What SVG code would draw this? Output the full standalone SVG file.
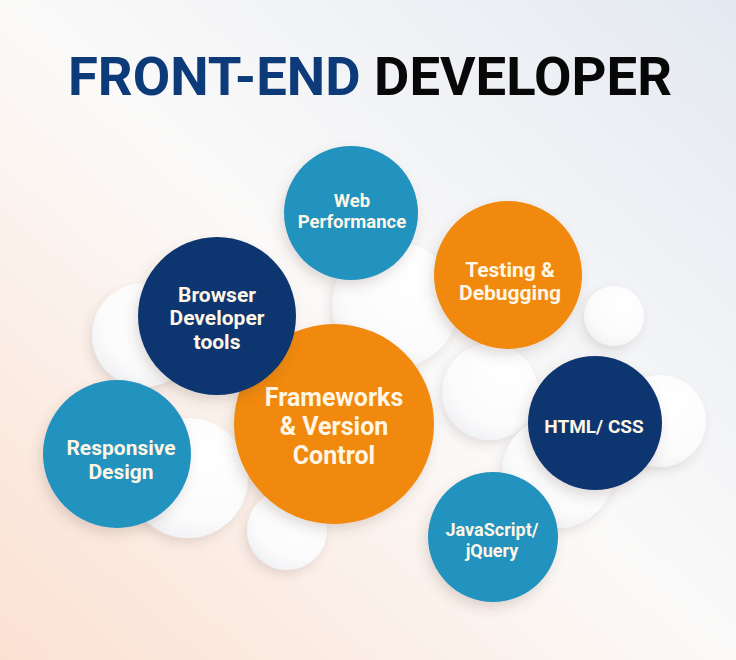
<svg xmlns="http://www.w3.org/2000/svg" width="736" height="660" viewBox="0 0 736 660">
<defs>
<linearGradient id="bg" x1="0" y1="1" x2="1" y2="0">
<stop offset="0" stop-color="#fbe1d2"/>
<stop offset="0.5" stop-color="#fbfaf9"/>
<stop offset="1" stop-color="#e4e9f1"/>
</linearGradient>
<radialGradient id="wh" cx="0.65" cy="0.3" r="0.8">
<stop offset="0" stop-color="#ffffff"/>
<stop offset="0.7" stop-color="#fbfbfc"/>
<stop offset="1" stop-color="#eeeff2"/>
</radialGradient>
<filter id="sh" x="-30%" y="-30%" width="160%" height="160%">
<feDropShadow dx="-3" dy="6" stdDeviation="6" flood-color="#5a4a40" flood-opacity="0.18"/>
</filter>
<filter id="shw" x="-30%" y="-30%" width="160%" height="160%">
<feDropShadow dx="-3" dy="5" stdDeviation="5" flood-color="#5a4a40" flood-opacity="0.14"/>
</filter>
</defs>
<style>
.teal{fill:#2492be;filter:url(#sh)}
.navy{fill:#0b3570;filter:url(#sh)}
.orng{fill:#f0890e;filter:url(#sh)}
.wht{fill:url(#wh);filter:url(#shw)}
.lbl{font-family:Roboto,"Liberation Sans",sans-serif;font-weight:700;fill:#fff6e6;text-anchor:middle}
.ttl{font-family:Roboto,"Liberation Sans",sans-serif;font-weight:700;font-size:53px}
</style>
<rect width="736" height="660" fill="url(#bg)"/>
<text class="ttl" x="68" y="95" textLength="604" lengthAdjust="spacingAndGlyphs"><tspan fill="#0d3a78">FRONT-END </tspan><tspan fill="#080808">DEVELOPER</tspan></text>
<g id="white-circles">
<circle class="wht" cx="395" cy="305" r="63"/>
<circle class="wht" cx="144" cy="335" r="52"/>
<circle class="wht" cx="188" cy="478" r="60"/>
<circle class="wht" cx="287" cy="530" r="40"/>
<circle class="wht" cx="490" cy="392" r="48"/>
<circle class="wht" cx="614" cy="316" r="30"/>
<circle class="wht" cx="660" cy="421" r="46"/>
<circle class="wht" cx="558" cy="472" r="56"/>
</g>
<g id="frameworks">
<circle class="orng" cx="334" cy="424" r="100"/>
<text class="lbl" font-size="25"><tspan x="334" y="406">Frameworks</tspan><tspan x="334" y="435">&amp; Version</tspan><tspan x="334" y="464">Control</tspan></text>
</g>
<g id="web-performance">
<circle class="teal" cx="351" cy="213" r="67"/>
<text class="lbl" font-size="18.5"><tspan x="352" y="207">Web</tspan><tspan x="352" y="228">Performance</tspan></text>
</g>
<g id="browser-tools">
<circle class="navy" cx="217" cy="316" r="79"/>
<text class="lbl" font-size="21"><tspan x="217" y="302">Browser</tspan><tspan x="217" y="325">Developer</tspan><tspan x="217" y="349">tools</tspan></text>
</g>
<g id="testing">
<circle class="orng" cx="508" cy="275" r="74"/>
<text class="lbl" font-size="21"><tspan x="510" y="277">Testing &amp;</tspan><tspan x="510" y="300">Debugging</tspan></text>
</g>
<g id="responsive">
<circle class="teal" cx="117" cy="454" r="74"/>
<text class="lbl" font-size="21"><tspan x="121" y="455">Responsive</tspan><tspan x="121" y="479">Design</tspan></text>
</g>
<g id="html-css">
<circle class="navy" cx="595" cy="423" r="67"/>
<text class="lbl" font-size="19" x="594" y="433">HTML/ CSS</text>
</g>
<g id="javascript">
<circle class="teal" cx="493" cy="537" r="65"/>
<text class="lbl" font-size="18"><tspan x="492" y="536">JavaScript/</tspan><tspan x="492" y="557">jQuery</tspan></text>
</g>
</svg>
